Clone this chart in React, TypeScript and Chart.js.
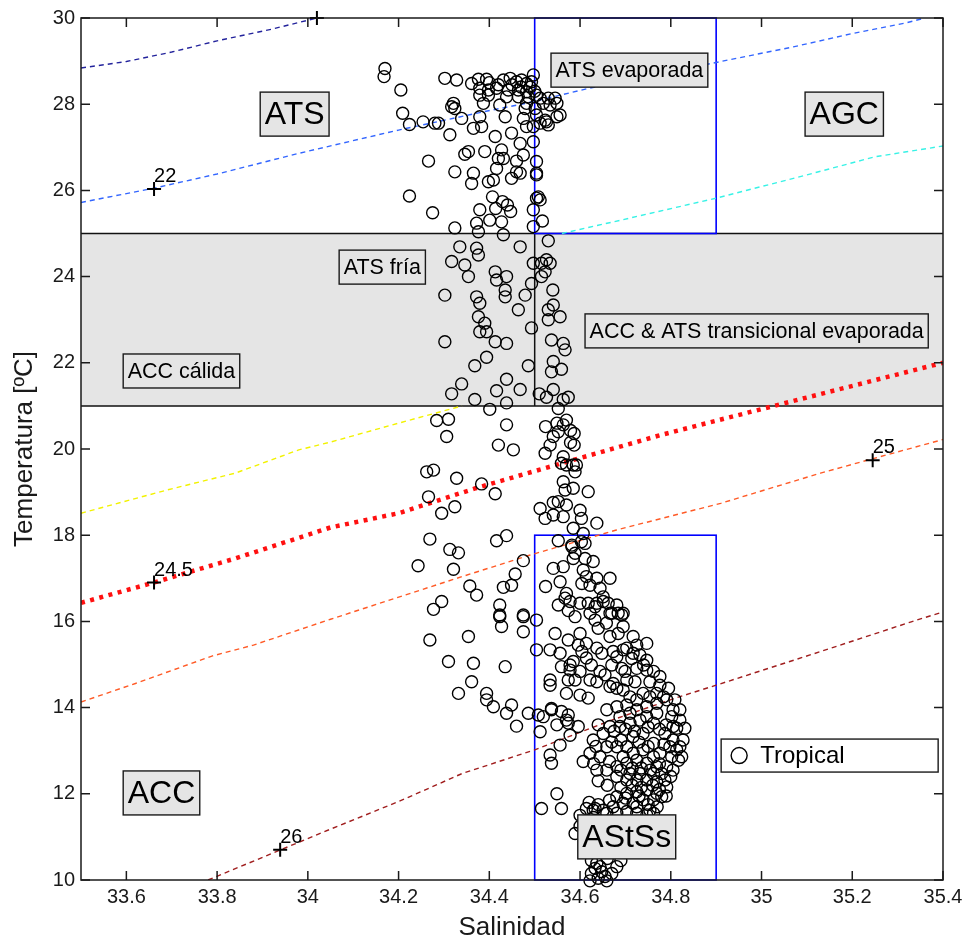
import { useEffect, useRef } from 'react';
import { Chart, registerables } from 'chart.js';

Chart.register(...registerables);

type Pt = [number, number];

// Salinity / temperature pairs of the Tropical stations
const tropical: Pt[] = [
  // upper layer (> 25 ºC)
  [34.17, 28.83], [34.168, 28.64], [34.205, 28.33], [34.302, 28.6], [34.328, 28.56],
  [34.361, 28.48], [34.376, 28.58], [34.394, 28.58], [34.379, 28.37], [34.398, 28.33],
  [34.416, 28.37], [34.431, 28.56], [34.446, 28.6], [34.46, 28.52], [34.471, 28.56],
  [34.482, 28.48], [34.497, 28.68], [34.493, 28.52], [34.442, 28.33], [34.464, 28.33],
  [34.482, 28.29], [34.398, 28.21], [34.379, 28.21], [34.438, 28.17], [34.464, 28.17],
  [34.486, 28.17], [34.504, 28.21], [34.512, 28.14], [34.53, 28.14], [34.545, 28.14],
  [34.519, 28.02], [34.534, 27.98], [34.549, 28.02], [34.556, 27.75], [34.549, 27.71],
  [34.526, 27.59], [34.512, 27.56], [34.53, 27.52], [34.523, 27.63], [34.387, 28.02],
  [34.423, 27.98], [34.435, 27.71], [34.482, 28.02], [34.479, 27.9], [34.501, 27.9],
  [34.504, 27.75], [34.475, 27.67], [34.482, 27.48], [34.497, 27.48], [34.317, 27.94],
  [34.324, 27.9], [34.321, 28.02], [34.209, 27.79], [34.224, 27.53], [34.254, 27.59],
  [34.28, 27.56], [34.288, 27.56], [34.339, 27.67], [34.379, 27.71], [34.365, 27.44],
  [34.383, 27.48], [34.313, 27.29], [34.413, 27.25], [34.449, 27.33], [34.468, 27.09],
  [34.497, 27.13], [34.266, 26.68], [34.346, 26.84], [34.354, 26.9], [34.39, 26.9],
  [34.427, 26.94], [34.42, 26.74], [34.431, 26.74], [34.46, 26.68], [34.475, 26.82],
  [34.504, 26.67], [34.324, 26.43], [34.365, 26.4], [34.361, 26.16], [34.398, 26.2],
  [34.409, 26.24], [34.416, 26.51], [34.449, 26.28], [34.46, 26.43], [34.468, 26.4],
  [34.504, 26.4], [34.504, 26.36], [34.224, 25.87], [34.275, 25.48], [34.407, 25.85],
  [34.414, 25.58], [34.429, 25.74], [34.44, 25.66], [34.447, 25.51], [34.379, 25.55],
  [34.504, 25.82], [34.512, 25.78], [34.497, 25.55], [34.508, 25.85], [34.401, 25.31],
  [34.427, 25.27], [34.372, 25.24], [34.376, 25.04], [34.324, 25.13], [34.431, 24.97],
  [34.497, 25.16], [34.517, 25.29], [34.4, 28.5], [34.42, 28.45], [34.45, 28.45],
  [34.47, 28.4], [34.49, 28.4], [34.5, 28.3],
  // 21 - 25 ºC
  [34.335, 24.69], [34.372, 24.66], [34.376, 24.5], [34.468, 24.69], [34.53, 24.83],
  [34.317, 24.35], [34.346, 24.27], [34.354, 24.0], [34.413, 24.11], [34.416, 23.92],
  [34.438, 24.0], [34.497, 24.31], [34.515, 24.31], [34.526, 24.39], [34.534, 24.31],
  [34.523, 24.11], [34.515, 24.0], [34.493, 23.84], [34.435, 23.69], [34.435, 23.53],
  [34.479, 23.57], [34.302, 23.57], [34.372, 23.53], [34.379, 23.38], [34.54, 23.69],
  [34.541, 23.34], [34.53, 23.23], [34.464, 23.23], [34.376, 23.07], [34.39, 22.92],
  [34.53, 23.0], [34.556, 23.07], [34.379, 22.72], [34.394, 22.72], [34.493, 22.81],
  [34.302, 22.49], [34.413, 22.49], [34.438, 22.45], [34.537, 22.53], [34.563, 22.45],
  [34.567, 22.3], [34.394, 22.13], [34.368, 21.93], [34.486, 21.93], [34.541, 22.03],
  [34.537, 21.79], [34.559, 21.85], [34.339, 21.51], [34.317, 21.28], [34.438, 21.62],
  [34.416, 21.35], [34.468, 21.38], [34.51, 21.28], [34.541, 21.38], [34.563, 21.15],
  [34.574, 21.2], [34.368, 21.15], [34.401, 20.92], [34.438, 21.07], [34.526, 21.2],
  // 16 - 21 ºC
  [34.552, 20.94], [34.57, 20.67], [34.563, 20.56], [34.284, 20.66], [34.31, 20.69],
  [34.306, 20.29], [34.438, 20.56], [34.524, 20.52], [34.549, 20.6], [34.579, 20.43],
  [34.587, 20.36], [34.541, 20.29], [34.552, 20.4], [34.42, 20.09], [34.453, 19.98],
  [34.534, 20.09], [34.523, 19.9], [34.579, 20.15], [34.587, 20.09], [34.563, 19.82],
  [34.559, 19.67], [34.57, 19.63], [34.585, 19.63], [34.592, 19.63], [34.589, 19.47],
  [34.262, 19.47], [34.277, 19.51], [34.328, 19.32], [34.383, 19.19], [34.413, 18.96],
  [34.266, 18.89], [34.324, 18.66], [34.295, 18.51], [34.563, 19.24], [34.585, 19.09],
  [34.618, 19.01], [34.567, 19.05], [34.541, 18.76], [34.552, 18.78], [34.57, 18.7],
  [34.512, 18.62], [34.523, 18.39], [34.541, 18.47], [34.563, 18.43], [34.6, 18.58],
  [34.603, 18.39], [34.637, 18.28], [34.585, 18.16], [34.269, 17.91], [34.416, 17.87],
  [34.438, 17.99], [34.552, 17.87], [34.582, 17.77], [34.607, 18.04], [34.611, 17.81],
  [34.313, 17.67], [34.332, 17.59], [34.243, 17.29], [34.321, 17.21], [34.475, 17.41],
  [34.457, 17.1], [34.449, 16.84], [34.431, 16.79], [34.357, 16.82], [34.372, 16.61],
  [34.277, 16.28], [34.295, 16.46], [34.423, 16.38], [34.423, 16.15], [34.475, 16.15],
  [34.541, 17.23], [34.563, 17.27], [34.585, 17.46], [34.611, 17.46], [34.629, 17.39],
  [34.607, 17.19], [34.614, 17.04], [34.582, 17.73], [34.603, 17.85], [34.589, 17.58],
  [34.637, 17.0], [34.666, 17.0], [34.604, 16.88], [34.622, 16.84], [34.644, 16.77],
  [34.651, 16.57], [34.637, 16.42], [34.662, 16.42], [34.681, 16.38], [34.684, 16.19],
  [34.666, 16.19], [34.524, 16.81], [34.556, 16.92], [34.57, 16.65], [34.567, 16.54],
  [34.578, 16.46], [34.552, 16.38], [34.574, 16.25], [34.6, 16.42], [34.618, 16.42],
  [34.622, 16.19], [34.695, 16.19],
  // 13 - 16 ºC
  [34.423, 16.11], [34.427, 15.88], [34.475, 16.11], [34.475, 15.76], [34.504, 16.03],
  [34.435, 14.95], [34.504, 15.34], [34.394, 14.33], [34.394, 14.18], [34.409, 14.02],
  [34.449, 14.06], [34.438, 13.87], [34.46, 13.57], [34.486, 13.87], [34.508, 13.83],
  [34.512, 13.44], [34.534, 14.52], [34.537, 13.98], [34.559, 13.91], [34.574, 13.83],
  [34.549, 13.6], [34.574, 13.64], [34.578, 13.36], [34.556, 13.13], [34.534, 12.9],
  [34.537, 12.71], [34.596, 13.56], [34.607, 12.75], [34.637, 12.55], [34.549, 12.0],
  [34.559, 11.66], [34.515, 11.66], [34.589, 11.08], [34.614, 11.66], [34.633, 11.66],
  [34.589, 16.11], [34.633, 16.34], [34.651, 16.46], [34.67, 16.19], [34.692, 16.15],
  [34.545, 15.72], [34.574, 15.57], [34.6, 15.72], [34.596, 15.45], [34.614, 15.49],
  [34.633, 16.03], [34.64, 15.84], [34.658, 15.96], [34.666, 15.65], [34.684, 15.72],
  [34.695, 15.88], [34.717, 15.65], [34.556, 15.26], [34.559, 14.95], [34.585, 15.07],
  [34.604, 15.3], [34.614, 15.15], [34.637, 15.38], [34.648, 15.26], [34.673, 15.3],
  [34.681, 15.18], [34.703, 15.38], [34.717, 15.26], [34.732, 15.22], [34.747, 15.1],
  [34.534, 14.64], [34.574, 14.64], [34.589, 14.64], [34.57, 14.33], [34.6, 14.29],
  [34.618, 14.22], [34.622, 14.64], [34.637, 14.6], [34.655, 14.76], [34.666, 14.49],
  [34.681, 14.45], [34.692, 14.91], [34.703, 14.64], [34.721, 14.6], [34.74, 14.99],
  [34.762, 14.84], [34.754, 14.6], [34.776, 14.52], [34.784, 14.25], [34.747, 14.87],
  [34.725, 14.91], [34.699, 14.84], [34.747, 15.49], [34.725, 15.45], [34.695, 15.34],
  [34.714, 15.14], [34.67, 14.99], [34.644, 14.84], [34.625, 14.99], [34.6, 14.84],
  [34.578, 14.87], [34.776, 14.72], [34.795, 14.45], [34.809, 14.18], [34.354, 15.65],
  [34.269, 15.57], [34.31, 15.07], [34.365, 15.03], [34.361, 14.6], [34.332, 14.33],
  [34.534, 15.34], [34.578, 14.99], [34.519, 13.79], [34.537, 13.95], [34.57, 13.71],
  // core of the subtropical water
  [34.659, 13.95], [34.681, 14.02], [34.703, 14.06], [34.725, 13.95], [34.747, 14.02],
  [34.769, 14.1], [34.791, 14.18], [34.805, 13.95], [34.82, 13.71], [34.813, 13.52],
  [34.827, 13.25], [34.798, 13.09], [34.787, 13.4], [34.762, 13.64], [34.732, 13.71],
  [34.71, 13.64], [34.688, 13.56], [34.666, 13.56], [34.651, 13.4], [34.629, 13.25],
  [34.622, 12.94], [34.644, 12.86], [34.659, 13.09], [34.681, 13.09], [34.703, 13.09],
  [34.717, 13.33], [34.739, 13.4], [34.762, 13.17], [34.776, 12.94], [34.802, 12.86],
  [34.817, 12.78], [34.82, 13.09], [34.791, 12.63], [34.769, 12.63], [34.747, 12.71],
  [34.725, 12.78], [34.703, 12.71], [34.681, 12.63], [34.659, 12.55], [34.681, 12.4],
  [34.703, 12.32], [34.725, 12.32], [34.747, 12.32], [34.769, 12.28], [34.787, 12.32],
  [34.78, 11.93], [34.762, 11.86], [34.739, 11.86], [34.717, 11.78], [34.695, 11.78],
  [34.673, 11.7], [34.651, 11.62], [34.629, 11.62], [34.725, 11.7], [34.754, 11.62],
  [34.805, 13.56], [34.802, 13.79], [34.71, 13.87], [34.688, 13.79], [34.747, 13.79],
  [34.769, 13.87], [34.739, 13.02], [34.717, 12.94], [34.762, 12.86], [34.695, 12.86],
  [34.732, 12.47], [34.71, 12.47], [34.762, 12.47], [34.747, 12.09], [34.725, 12.05],
  [34.703, 12.01], [34.681, 11.93], [34.769, 12.01], [34.791, 12.16], [34.78, 12.47],
  [34.805, 13.25], [34.813, 13.02], [34.82, 13.95], [34.831, 13.52], [34.824, 12.86],
  [34.805, 12.55], [34.659, 11.55], [34.681, 11.55], [34.703, 11.59], [34.725, 11.55],
  [34.747, 11.51], [34.762, 11.55],
  [34.673, 14.56], [34.695, 14.41], [34.71, 14.25], [34.725, 14.18], [34.739, 14.33],
  [34.754, 14.25], [34.769, 14.33], [34.64, 13.6], [34.675, 13.45], [34.7, 13.5],
  [34.72, 13.45], [34.75, 13.55], [34.775, 13.5], [34.79, 13.6], [34.635, 13.1],
  [34.67, 13.2], [34.69, 13.25], [34.73, 13.2], [34.75, 13.1], [34.785, 13.15],
  [34.63, 12.7], [34.665, 12.75], [34.69, 12.55], [34.715, 12.6], [34.735, 12.6],
  [34.755, 12.55], [34.775, 12.7], [34.8, 12.4], [34.64, 12.3], [34.66, 12.2],
  [34.69, 12.15], [34.715, 12.2], [34.735, 12.15], [34.76, 12.2], [34.775, 12.1],
  [34.79, 11.95], [34.62, 11.8], [34.64, 11.75], [34.665, 11.85], [34.7, 11.9],
  [34.73, 11.95], [34.75, 11.75], [34.77, 11.7], [34.6, 11.5], [34.615, 11.35],
  [34.63, 11.45], [34.6, 11.25],
  // deepest stations
  [34.637, 10.39], [34.644, 10.31], [34.625, 10.15], [34.64, 10.04], [34.655, 10.08],
  [34.67, 10.15], [34.681, 10.31], [34.659, 9.98], [34.622, 9.98], [34.648, 10.19],
  [34.633, 10.27], [34.625, 10.45], [34.66, 10.5], [34.69, 10.45],
];

// Isopycnals (sigma-t) traced across the diagram
const sigma21: Pt[] = [[33.5, 28.84], [33.6, 28.99], [33.7, 29.21], [33.8, 29.47], [33.92, 29.74], [34.02, 30.0]];
const sigma22: Pt[] = [
  [33.5, 25.72], [33.66, 26.05], [33.8, 26.38], [33.98, 26.86], [34.2, 27.4], [34.39, 27.83],
  [34.48, 28.02], [34.62, 28.37], [34.91, 28.99], [35.07, 29.33], [35.2, 29.64], [35.32, 29.89], [35.36, 30.0],
];
const sigma23: Pt[] = [[34.56, 25.0], [34.69, 25.31], [34.9, 25.82], [35.1, 26.36], [35.25, 26.78], [35.4, 27.03]];
const sigma24: Pt[] = [[33.5, 18.51], [33.69, 19.05], [33.84, 19.44], [33.98, 19.98], [34.05, 20.16], [34.2, 20.6], [34.34, 21.0]];
const sigma245: Pt[] = [
  [33.5, 16.43], [33.66, 16.9], [33.84, 17.46], [34.05, 18.18], [34.2, 18.51], [34.37, 19.09],
  [34.56, 19.67], [34.78, 20.33], [35.02, 20.98], [35.4, 22.0],
];
const sigma25: Pt[] = [
  [33.5, 14.13], [33.62, 14.56], [33.79, 15.2], [33.88, 15.45], [34.05, 16.05], [34.34, 17.04],
  [34.49, 17.54], [34.68, 18.12], [34.91, 18.74], [35.13, 19.44], [35.24, 19.76], [35.4, 20.22],
];
const sigma26: Pt[] = [
  [33.78, 10.0], [33.94, 10.7], [34.05, 11.18], [34.2, 11.82], [34.34, 12.47], [34.5, 13.02],
  [34.67, 13.71], [34.81, 14.22], [34.9, 14.52], [35.13, 15.3], [35.33, 15.99], [35.4, 16.22],
];

// Contour labels
const clabelS = [34.02, 33.661, 33.661, 35.245, 33.939];
const clabelT = [30.0, 26.03, 16.9, 19.74, 10.7];
const clabelText = ['21', '22', '24.5', '25', '26'];

// Water masses: name, left salinity and centre temperature of each tag
const massNames = ['ATS', 'AGC', 'ATS evaporada', 'ATS fría', 'ACC & ATS transicional evaporada', 'ACC cálida', 'ACC', 'AStSs'];
const massS = [33.895, 35.096, 34.536, 34.069, 34.611, 33.593, 33.593, 34.595];
const massT = [27.77, 27.77, 28.79, 24.22, 22.74, 21.81, 12.02, 11.0];

// Limits of the mass domains
const bandT = [21, 25];
const bandSplitS = 34.5;
const boxS = [34.5, 34.9];
const upperBoxT = [25, 30];
const lowerBoxT = [10, 18];

// Axes
const salinityTicks = [33.6, 33.8, 34, 34.2, 34.4, 34.6, 34.8, 35, 35.2, 35.4];
const temperatureTicks = [10, 12, 14, 16, 18, 20, 22, 24, 26, 28, 30];

// Legend anchor (upper-left corner, data units)
const legendS = 34.911;
const legendT = 13.27;

const FONT = '"Liberation Sans", Arial, Helvetica, sans-serif';

const toXY = (pts: Pt[]) => pts.map(([x, y]) => ({ x, y }));

const isoLine = (label: string, pts: Pt[], color: string, order: number, extra: any = {}) => ({
  label,
  data: toXY(pts),
  showLine: true,
  borderColor: color,
  borderWidth: 1.4,
  borderDash: [5, 4],
  pointRadius: 0,
  pointHoverRadius: 0,
  fill: false,
  tension: 0,
  order,
  ...extra,
});

const overlay = {
  id: 'tsOverlay',
  beforeDatasetsDraw(chart: any) {
    const { ctx, chartArea: a, scales } = chart;
    const x = scales.x;
    const y = scales.y;
    ctx.save();
    const yTop = y.getPixelForValue(bandT[1]);
    const yBot = y.getPixelForValue(bandT[0]);
    ctx.fillStyle = '#e5e5e5';
    ctx.fillRect(a.left, yTop, a.right - a.left, yBot - yTop);

    ctx.strokeStyle = '#111';
    ctx.lineWidth = 1.5;
    ctx.beginPath();
    ctx.moveTo(a.left, yTop);
    ctx.lineTo(a.right, yTop);
    ctx.moveTo(a.left, yBot);
    ctx.lineTo(a.right, yBot);
    const xs = x.getPixelForValue(bandSplitS);
    ctx.moveTo(xs, yTop);
    ctx.lineTo(xs, yBot);
    ctx.stroke();

    ctx.strokeStyle = '#0000ff';
    ctx.lineWidth = 1.6;
    const x0 = x.getPixelForValue(boxS[0]);
    const x1 = x.getPixelForValue(boxS[1]);
    for (const [t0, t1] of [upperBoxT, lowerBoxT]) {
      const ya = y.getPixelForValue(t1);
      const yb = y.getPixelForValue(t0);
      ctx.strokeRect(x0, ya, x1 - x0, yb - ya);
    }
    ctx.restore();
  },
  afterDatasetsDraw(chart: any) {
    const { ctx, chartArea: a, scales } = chart;
    const x = scales.x;
    const y = scales.y;

    // contour values
    ctx.save();
    ctx.beginPath();
    ctx.rect(a.left, a.top, a.right - a.left, a.bottom - a.top);
    ctx.clip();
    ctx.fillStyle = '#000';
    ctx.font = `20px ${FONT}`;
    ctx.textAlign = 'left';
    ctx.textBaseline = 'alphabetic';
    clabelText.forEach((txt, i) => {
      ctx.fillText(txt, x.getPixelForValue(clabelS[i]), y.getPixelForValue(clabelT[i]) - 7);
    });
    ctx.restore();

    // water-mass tags
    ctx.save();
    massNames.forEach((name, i) => {
      const big = name.indexOf(' ') < 0;
      const fs = big ? 32 : 21.5;
      ctx.font = `${fs}px ${FONT}`;
      const w = ctx.measureText(name).width + 9;
      const h = Math.round(fs + 12);
      const left = x.getPixelForValue(massS[i]);
      const cy = y.getPixelForValue(massT[i]);
      ctx.fillStyle = '#e5e5e5';
      ctx.fillRect(left, cy - h / 2, w, h);
      ctx.strokeStyle = '#1a1a1a';
      ctx.lineWidth = 1.4;
      ctx.strokeRect(left, cy - h / 2, w, h);
      ctx.fillStyle = '#000';
      ctx.textAlign = 'center';
      ctx.textBaseline = 'middle';
      ctx.fillText(name, left + w / 2, cy + 1);
    });

    // legend
    const lx = x.getPixelForValue(legendS);
    const ly = y.getPixelForValue(legendT);
    const lw = 217;
    const lh = 33;
    ctx.fillStyle = '#fff';
    ctx.fillRect(lx, ly, lw, lh);
    ctx.strokeStyle = '#1a1a1a';
    ctx.lineWidth = 1.4;
    ctx.strokeRect(lx, ly, lw, lh);
    ctx.beginPath();
    ctx.arc(lx + 18, ly + lh / 2, 8, 0, Math.PI * 2);
    ctx.strokeStyle = '#000';
    ctx.lineWidth = 1.4;
    ctx.stroke();
    ctx.fillStyle = '#000';
    ctx.font = `24px ${FONT}`;
    ctx.textAlign = 'left';
    ctx.textBaseline = 'middle';
    ctx.fillText(chart.data.datasets[0].label, lx + 39, ly + lh / 2 + 1);
    ctx.restore();
  },
  afterDraw(chart: any) {
    const { ctx, chartArea: a, scales } = chart;
    const x = scales.x;
    const y = scales.y;
    const tl = 9;
    ctx.save();
    ctx.strokeStyle = '#1a1a1a';
    ctx.lineWidth = 1.5;
    ctx.strokeRect(a.left, a.top, a.right - a.left, a.bottom - a.top);
    ctx.beginPath();
    salinityTicks.forEach((v) => {
      const px = x.getPixelForValue(v);
      ctx.moveTo(px, a.bottom);
      ctx.lineTo(px, a.bottom - tl);
      ctx.moveTo(px, a.top);
      ctx.lineTo(px, a.top + tl);
    });
    temperatureTicks.forEach((v) => {
      const py = y.getPixelForValue(v);
      ctx.moveTo(a.left, py);
      ctx.lineTo(a.left + tl, py);
      ctx.moveTo(a.right, py);
      ctx.lineTo(a.right - tl, py);
    });
    ctx.stroke();
    ctx.restore();
  },
};

export default function App() {
  const canvasRef = useRef<HTMLCanvasElement | null>(null);

  useEffect(() => {
    const canvas = canvasRef.current;
    if (!canvas) return;

    const chart = new Chart(canvas, {
      type: 'scatter',
      data: {
        datasets: [
          {
            label: 'Tropical',
            data: toXY(tropical),
            pointStyle: 'circle',
            pointRadius: 6,
            pointHoverRadius: 6,
            pointBorderWidth: 1.4,
            pointBorderColor: '#000',
            pointBackgroundColor: 'rgba(0,0,0,0)',
            showLine: false,
            clip: false,
            order: 0,
          } as any,
          {
            label: 'clabel',
            data: clabelS.map((s, i) => ({ x: s, y: clabelT[i] })),
            pointStyle: 'cross',
            pointRadius: 7,
            pointHoverRadius: 7,
            pointBorderWidth: 2,
            pointBorderColor: '#000',
            showLine: false,
            clip: false,
            order: 1,
          } as any,
          isoLine('21', sigma21, '#23239c', 2),
          isoLine('22', sigma22, '#3366ff', 3),
          isoLine('23', sigma23, '#38f2e6', 4),
          isoLine('24', sigma24, '#f2f200', 5),
          isoLine('24.5', sigma245, '#ff1010', 6, { borderWidth: 4.5, borderDash: [4, 5.5] }),
          isoLine('25', sigma25, '#ff5a26', 7),
          isoLine('26', sigma26, '#a01e1e', 8),
        ],
      },
      options: {
        responsive: false,
        animation: false,
        events: [],
        layout: { padding: { top: 18, right: 25, left: 0, bottom: 0 } },
        plugins: {
          legend: { display: false },
          tooltip: { enabled: false },
        },
        scales: {
          x: {
            type: 'linear',
            min: 33.5,
            max: 35.4,
            afterBuildTicks: (s: any) => {
              s.ticks = salinityTicks.map((value) => ({ value }));
            },
            afterFit: (s: any) => {
              s.height = 63;
            },
            grid: { display: false, drawTicks: false },
            border: { display: false },
            ticks: {
              padding: 5,
              color: '#1a1a1a',
              font: { family: FONT, size: 20 },
              maxRotation: 0,
              autoSkip: false,
              callback: (v: any) => String(v),
            },
            title: {
              display: true,
              text: 'Salinidad',
              color: '#1a1a1a',
              font: { family: FONT, size: 26, lineHeight: 1 },
              padding: { top: 0, bottom: 2 },
            },
          },
          y: {
            type: 'linear',
            min: 10,
            max: 30,
            afterBuildTicks: (s: any) => {
              s.ticks = temperatureTicks.map((value) => ({ value }));
            },
            afterFit: (s: any) => {
              s.width = 81;
            },
            grid: { display: false, drawTicks: false },
            border: { display: false },
            ticks: {
              padding: 6,
              color: '#1a1a1a',
              font: { family: FONT, size: 20 },
              autoSkip: false,
              callback: (v: any) => String(v),
            },
            title: {
              display: true,
              text: 'Temperatura [ºC]',
              color: '#1a1a1a',
              font: { family: FONT, size: 26, lineHeight: 1 },
              padding: { top: 12, bottom: 0 },
            },
          },
        },
      },
      plugins: [overlay],
    });

    return () => chart.destroy();
  }, []);

  return (
    <div style={{ position: 'absolute', left: 0, top: 0, width: 968, height: 943, background: '#fff' }}>
      <canvas ref={canvasRef} width={968} height={943} style={{ display: 'block' }} />
    </div>
  );
}
